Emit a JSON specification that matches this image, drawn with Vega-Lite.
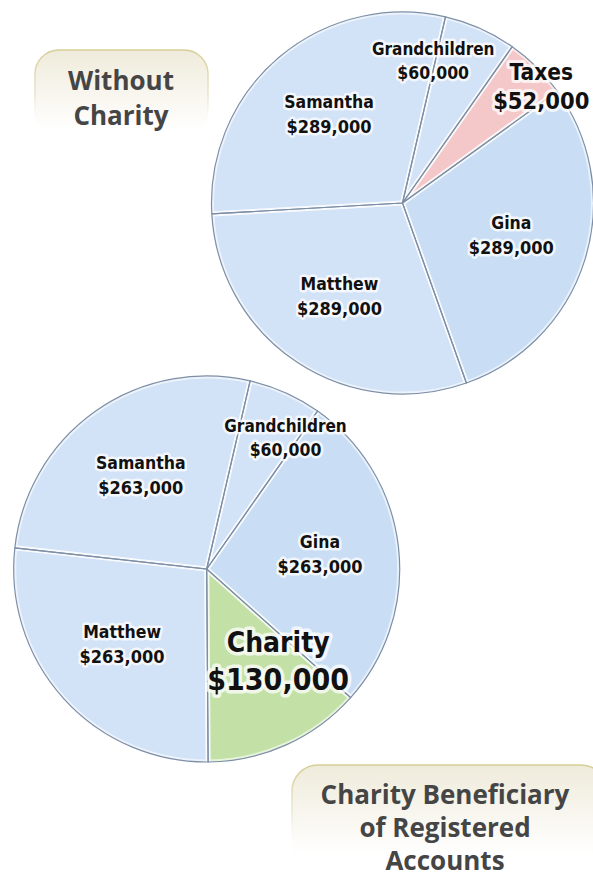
{
"$schema":"https://vega.github.io/schema/vega-lite/v6.json",
"width":593,"height":879,
"autosize":{"type":"fit","contains":"padding"},
"padding":0,
"background":"white",
"config":{"view":{"stroke":null},"text":{"font":"DejaVu Sans Condensed","fontWeight":"bold"}},
"data":{"values":[
{"scenario":"Without Charity","category":"Grandchildren","amount":60000,"seq":1},
{"scenario":"Without Charity","category":"Taxes","amount":52000,"seq":2},
{"scenario":"Without Charity","category":"Gina","amount":289000,"seq":3},
{"scenario":"Without Charity","category":"Matthew","amount":289000,"seq":4},
{"scenario":"Without Charity","category":"Samantha","amount":289000,"seq":5},
{"scenario":"With Charity","category":"Grandchildren","amount":60000,"seq":1},
{"scenario":"With Charity","category":"Gina","amount":263000,"seq":2},
{"scenario":"With Charity","category":"Charity","amount":130000,"seq":3},
{"scenario":"With Charity","category":"Matthew","amount":263000,"seq":4},
{"scenario":"With Charity","category":"Samantha","amount":263000,"seq":5}
]},
"datasets":{"captions":[
{"scenario":"Without Charity","caption":"Without\nCharity"},
{"scenario":"With Charity","caption":"Charity Beneficiary\nof Registered\nAccounts"}
]},
"resolve":{"scale":{"x":"independent","y":"independent"}},
"layer":[
{
"data":{"name":"captions"},
"encoding":{
"x":{"field":"scenario","type":"nominal","axis":null,"scale":{"type":"point","domain":["Without Charity","With Charity"],"range":[121.5,449.5],"padding":0}},
"y":{"field":"scenario","type":"nominal","axis":null,"scale":{"type":"point","domain":["Without Charity","With Charity"],"range":[92.5,840],"padding":0}}
},
"layer":[
{"transform":[{"filter":{"field":"scenario","equal":"Without Charity"}}],
"mark":{"type":"rect","width":173,"height":85,"cornerRadius":24,"strokeWidth":1.5,
"fill":{"gradient":"linear","x1":0,"y1":0,"x2":0,"y2":1,"stops":[{"offset":0,"color":"#efebdb"},{"offset":0.95,"color":"#ffffff"}]},
"stroke":{"gradient":"linear","x1":0,"y1":0,"x2":0,"y2":1,"stops":[{"offset":0,"color":"#d6ce96"},{"offset":0.55,"color":"#ebe7cf"},{"offset":0.9,"color":"rgba(255,255,255,0)"}]}}},
{"transform":[{"filter":{"field":"scenario","equal":"With Charity"}}],
"mark":{"type":"rect","width":315,"height":150,"cornerRadius":26,"strokeWidth":1.5,
"fill":{"gradient":"linear","x1":0,"y1":0,"x2":0,"y2":1,"stops":[{"offset":0,"color":"#efebdb"},{"offset":0.6,"color":"#ffffff"}]},
"stroke":{"gradient":"linear","x1":0,"y1":0,"x2":0,"y2":1,"stops":[{"offset":0,"color":"#d6ce96"},{"offset":0.3,"color":"#ebe7cf"},{"offset":0.55,"color":"rgba(255,255,255,0)"}]}}}
]
},
{
"data":{"name":"captions"},
"encoding":{
"x":{"field":"scenario","type":"nominal","axis":null,"scale":{"type":"point","domain":["Without Charity","With Charity"],"range":[121,445],"padding":0}},
"y":{"field":"scenario","type":"nominal","axis":null,"scale":{"type":"point","domain":["Without Charity","With Charity"],"range":[82,796],"padding":0}},
"text":{"field":"caption"}
},
"layer":[
{"transform":[{"filter":{"field":"scenario","equal":"Without Charity"}}],
"mark":{"type":"text","lineBreak":"\n","font":"Open Sans","fontWeight":"bold","fontSize":26,"lineHeight":34.5,"color":"#454545","align":"center","baseline":"middle"}},
{"transform":[{"filter":{"field":"scenario","equal":"With Charity"}}],
"mark":{"type":"text","lineBreak":"\n","font":"Open Sans","fontWeight":"bold","fontSize":26,"lineHeight":33,"color":"#454545","align":"center","baseline":"middle"}}
]
},
{
"transform":[{"filter":{"field":"scenario","equal":"Without Charity"}}],
"encoding":{
"x":{"field":"scenario","type":"nominal","axis":null,"scale":{"type":"point","domain":["Without Charity","With Charity"],"range":[402.5,206.7],"padding":0}},
"y":{"field":"scenario","type":"nominal","axis":null,"scale":{"type":"point","domain":["Without Charity","With Charity"],"range":[203,569],"padding":0}},
"theta":{"field":"amount","type":"quantitative","stack":true,"scale":{"domain":[0,979000],"range":[0.22689,6.51008]}},
"order":{"field":"seq","type":"quantitative"},
"detail":{"field":"category","type":"nominal"}
},
"layer":[
{"mark":{"type":"arc","radius":191},
"encoding":{"color":{"field":"category","type":"nominal","legend":null,"scale":{"domain":["Samantha","Matthew","Gina","Grandchildren","Taxes","Charity"],"range":["#d2e2f7","#d2e2f7","#c9def5","#d2e2f7","#f4c8c9","#c3e1a6"]}}}},
{"mark":{"type":"arc","radius":191,"fillOpacity":0,"stroke":"#ffffff","strokeOpacity":0.6,"strokeWidth":5,"strokeJoin":"round"}},
{"mark":{"type":"arc","radius":191,"fillOpacity":0,"stroke":"#7d8fa6","strokeWidth":1.2}},
{"mark":{"type":"text","radius":114,"dy":-12.5,"fontSize":17.5,"fill":"white","stroke":"white","strokeWidth":5,"strokeOpacity":0.75,"strokeJoin":"round"},
"encoding":{"text":{"condition":{"test":"indexof(['Samantha','Gina','Matthew'], datum.category) >= 0","field":"category","type":"nominal"},"value":""}}},
{"mark":{"type":"text","radius":114,"dy":12.5,"fontSize":18,"fill":"white","stroke":"white","strokeWidth":5,"strokeOpacity":0.75,"strokeJoin":"round"},
"encoding":{"text":{"condition":{"test":"indexof(['Samantha','Gina','Matthew'], datum.category) >= 0","field":"amount","type":"quantitative","format":"$,"},"value":""}}},
{"mark":{"type":"text","radius":154,"dx":-32,"dy":-12,"fontSize":17,"fill":"white","stroke":"white","strokeWidth":5,"strokeOpacity":0.75,"strokeJoin":"round"},
"encoding":{"text":{"condition":{"test":"datum.category === 'Grandchildren'","field":"category","type":"nominal"},"value":""}}},
{"mark":{"type":"text","radius":154,"dx":-32,"dy":12,"fontSize":17.5,"fill":"white","stroke":"white","strokeWidth":5,"strokeOpacity":0.75,"strokeJoin":"round"},
"encoding":{"text":{"condition":{"test":"datum.category === 'Grandchildren'","field":"amount","type":"quantitative","format":"$,"},"value":""}}},
{"mark":{"type":"text","radius":162,"dx":25,"dy":-14.5,"fontSize":22.5,"fill":"white","stroke":"white","strokeWidth":6,"strokeOpacity":0.75,"strokeJoin":"round"},
"encoding":{"text":{"condition":{"test":"datum.category === 'Taxes'","field":"category","type":"nominal"},"value":""}}},
{"mark":{"type":"text","radius":162,"dx":25,"dy":14.5,"fontSize":23.5,"fill":"white","stroke":"white","strokeWidth":6,"strokeOpacity":0.75,"strokeJoin":"round"},
"encoding":{"text":{"condition":{"test":"datum.category === 'Taxes'","field":"amount","type":"quantitative","format":"$,"},"value":""}}},
{"mark":{"type":"text","radius":114,"dy":-12.5,"fontSize":17.5,"fill":"#111111"},
"encoding":{"text":{"condition":{"test":"indexof(['Samantha','Gina','Matthew'], datum.category) >= 0","field":"category","type":"nominal"},"value":""}}},
{"mark":{"type":"text","radius":114,"dy":12.5,"fontSize":18,"fill":"#111111"},
"encoding":{"text":{"condition":{"test":"indexof(['Samantha','Gina','Matthew'], datum.category) >= 0","field":"amount","type":"quantitative","format":"$,"},"value":""}}},
{"mark":{"type":"text","radius":154,"dx":-32,"dy":-12,"fontSize":17,"fill":"#111111"},
"encoding":{"text":{"condition":{"test":"datum.category === 'Grandchildren'","field":"category","type":"nominal"},"value":""}}},
{"mark":{"type":"text","radius":154,"dx":-32,"dy":12,"fontSize":17.5,"fill":"#111111"},
"encoding":{"text":{"condition":{"test":"datum.category === 'Grandchildren'","field":"amount","type":"quantitative","format":"$,"},"value":""}}},
{"mark":{"type":"text","radius":162,"dx":25,"dy":-14.5,"fontSize":22.5,"fill":"#111111"},
"encoding":{"text":{"condition":{"test":"datum.category === 'Taxes'","field":"category","type":"nominal"},"value":""}}},
{"mark":{"type":"text","radius":162,"dx":25,"dy":14.5,"fontSize":23.5,"fill":"#111111"},
"encoding":{"text":{"condition":{"test":"datum.category === 'Taxes'","field":"amount","type":"quantitative","format":"$,"},"value":""}}}
]
},
{
"transform":[{"filter":{"field":"scenario","equal":"With Charity"}}],
"encoding":{
"x":{"field":"scenario","type":"nominal","axis":null,"scale":{"type":"point","domain":["Without Charity","With Charity"],"range":[402.5,206.7],"padding":0}},
"y":{"field":"scenario","type":"nominal","axis":null,"scale":{"type":"point","domain":["Without Charity","With Charity"],"range":[203,569],"padding":0}},
"theta":{"field":"amount","type":"quantitative","stack":true,"scale":{"domain":[0,979000],"range":[0.22689,6.51008]}},
"order":{"field":"seq","type":"quantitative"},
"detail":{"field":"category","type":"nominal"}
},
"layer":[
{"mark":{"type":"arc","radius":193},
"encoding":{"color":{"field":"category","type":"nominal","legend":null,"scale":{"domain":["Samantha","Matthew","Gina","Grandchildren","Taxes","Charity"],"range":["#d2e2f7","#d2e2f7","#c9def5","#d2e2f7","#f4c8c9","#c3e1a6"]}}}},
{"mark":{"type":"arc","radius":193,"fillOpacity":0,"stroke":"#ffffff","strokeOpacity":0.6,"strokeWidth":5,"strokeJoin":"round"}},
{"mark":{"type":"arc","radius":193,"fillOpacity":0,"stroke":"#7d8fa6","strokeWidth":1.2}},
{"mark":{"type":"text","radius":114,"dy":-12.5,"fontSize":17.5,"fill":"white","stroke":"white","strokeWidth":5,"strokeOpacity":0.75,"strokeJoin":"round"},
"encoding":{"text":{"condition":{"test":"indexof(['Samantha','Gina','Matthew'], datum.category) >= 0","field":"category","type":"nominal"},"value":""}}},
{"mark":{"type":"text","radius":114,"dy":12.5,"fontSize":18,"fill":"white","stroke":"white","strokeWidth":5,"strokeOpacity":0.75,"strokeJoin":"round"},
"encoding":{"text":{"condition":{"test":"indexof(['Samantha','Gina','Matthew'], datum.category) >= 0","field":"amount","type":"quantitative","format":"$,"},"value":""}}},
{"mark":{"type":"text","radius":142,"dx":21,"dy":-12,"fontSize":17,"fill":"white","stroke":"white","strokeWidth":5,"strokeOpacity":0.75,"strokeJoin":"round"},
"encoding":{"text":{"condition":{"test":"datum.category === 'Grandchildren'","field":"category","type":"nominal"},"value":""}}},
{"mark":{"type":"text","radius":142,"dx":21,"dy":12,"fontSize":17.5,"fill":"white","stroke":"white","strokeWidth":5,"strokeOpacity":0.75,"strokeJoin":"round"},
"encoding":{"text":{"condition":{"test":"datum.category === 'Grandchildren'","field":"amount","type":"quantitative","format":"$,"},"value":""}}},
{"mark":{"type":"text","radius":103,"dx":29,"dy":-18.5,"fontSize":28,"fill":"white","stroke":"white","strokeWidth":7,"strokeOpacity":0.75,"strokeJoin":"round"},
"encoding":{"text":{"condition":{"test":"datum.category === 'Charity'","field":"category","type":"nominal"},"value":""}}},
{"mark":{"type":"text","radius":103,"dx":29,"dy":18.5,"fontSize":30,"fill":"white","stroke":"white","strokeWidth":7,"strokeOpacity":0.75,"strokeJoin":"round"},
"encoding":{"text":{"condition":{"test":"datum.category === 'Charity'","field":"amount","type":"quantitative","format":"$,"},"value":""}}},
{"mark":{"type":"text","radius":114,"dy":-12.5,"fontSize":17.5,"fill":"#111111"},
"encoding":{"text":{"condition":{"test":"indexof(['Samantha','Gina','Matthew'], datum.category) >= 0","field":"category","type":"nominal"},"value":""}}},
{"mark":{"type":"text","radius":114,"dy":12.5,"fontSize":18,"fill":"#111111"},
"encoding":{"text":{"condition":{"test":"indexof(['Samantha','Gina','Matthew'], datum.category) >= 0","field":"amount","type":"quantitative","format":"$,"},"value":""}}},
{"mark":{"type":"text","radius":142,"dx":21,"dy":-12,"fontSize":17,"fill":"#111111"},
"encoding":{"text":{"condition":{"test":"datum.category === 'Grandchildren'","field":"category","type":"nominal"},"value":""}}},
{"mark":{"type":"text","radius":142,"dx":21,"dy":12,"fontSize":17.5,"fill":"#111111"},
"encoding":{"text":{"condition":{"test":"datum.category === 'Grandchildren'","field":"amount","type":"quantitative","format":"$,"},"value":""}}},
{"mark":{"type":"text","radius":103,"dx":29,"dy":-18.5,"fontSize":28,"fill":"#111111"},
"encoding":{"text":{"condition":{"test":"datum.category === 'Charity'","field":"category","type":"nominal"},"value":""}}},
{"mark":{"type":"text","radius":103,"dx":29,"dy":18.5,"fontSize":30,"fill":"#111111"},
"encoding":{"text":{"condition":{"test":"datum.category === 'Charity'","field":"amount","type":"quantitative","format":"$,"},"value":""}}}
]
}
]
}
